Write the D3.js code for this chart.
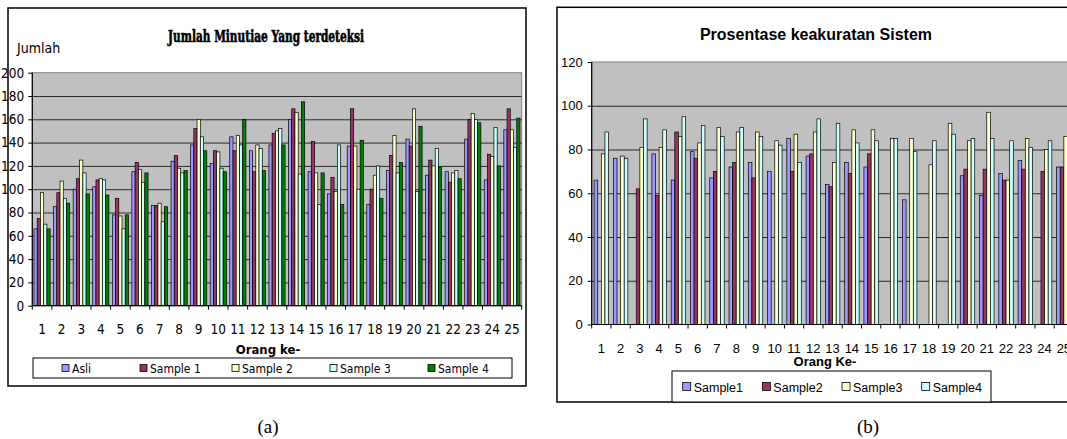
<!DOCTYPE html>
<html lang="en">
<head>
<meta charset="utf-8">
<title>Minutiae dan keakuratan</title>
<script src="https://d3js.org/d3.v7.min.js"></script>
<style>
  body { margin: 0; background: #fff; }
  svg { display: block; }
  .narrow { font-family: "Liberation Sans Narrow", "DejaVu Sans Condensed", "Liberation Sans", sans-serif; font-stretch: condensed; }
  .arial { font-family: "Liberation Sans", Arial, sans-serif; }
  .axis path { display: none; }
  .axis line { stroke: #000; }
  .grid line { stroke: #2a2a2a; }
  .grid path { display: none; }
</style>
</head>
<body>
<script>
// ---- data ----
const orang = ["1","2","3","4","5","6","7","8","9","10","11","12","13","14","15","16","17","18","19","20","21","22","23","24","25"];

// chart (a): Jumlah Minutiae Yang terdeteksi
const seriesA = ["Asli", "Sample 1", "Sample 2", "Sample 3", "Sample 4"];
const asli    = [66,85,100,102,78,115,86,124,138,122,145,133,138,160,115,96,137,87,116,143,112,115,143,108,151];
const sampleA1 = [75,97,109,108,92,123,86,129,152,133,133,115,148,169,141,110,169,100,129,137,125,106,160,130,169];
const sampleA2 = [97,107,125,109,77,117,88,118,160,132,146,138,150,166,114,98,137,112,146,169,120,114,165,128,151];
const sampleA3 = [70,92,114,108,66,106,72,114,145,118,138,135,152,113,87,138,100,120,114,98,135,116,160,153,136];
const sampleA4 = [66,88,96,95,78,114,85,116,133,115,160,116,138,175,114,87,142,92,123,154,119,109,157,120,161];
const ticksA = [0,20,40,60,80,100,120,140,160,180,200];

// chart (b): Prosentase keakuratan Sistem (null = no bar)
const seriesB = ["Sample1", "Sample2", "Sample3", "Sample4"];
const sampleB1 = [66,76,null,78,66,79,67,72,74,70,85,77,64,74,72,null,57,null,null,68,59,69,75,null,72];
const sampleB2 = [null,null,62,59,88,76,70,74,67,null,70,78,63,69,78,null,null,null,null,71,71,66,71,70,72];
const sampleB3 = [78,77,81,81,86,83,90,88,88,84,87,88,74,89,89,85,85,73,92,84,97,66,85,80,86];
const sampleB4 = [88,76,94,89,95,91,86,90,86,82,74,94,92,83,84,85,79,84,87,85,85,84,81,84,null];
const ticksB = [0,20,40,60,80,100,120];

const colorsA = ["#9999ff", "#993366", "#ffffcc", "#ccffff", "#008000"];
const colorsB = ["#9999ff", "#993366", "#ffffcc", "#ccffff"];

const W = 1067, H = 439;
const svg = d3.select("body").append("svg").attr("width", W).attr("height", H);
svg.append("rect").attr("width", W).attr("height", H).attr("fill", "#fff");

function panel(o) {
  const g = svg.append("g");
  // outer frame
  g.append("rect").attr("x", o.frame[0]).attr("y", o.frame[1])
    .attr("width", o.frame[2] - o.frame[0]).attr("height", o.frame[3] - o.frame[1])
    .attr("fill", "#fff").attr("stroke", "#000").attr("stroke-width", 1.5);

  const x = d3.scaleBand().domain(orang).range([o.left, o.right]).padding(0);
  const inner = d3.scaleBand().domain(o.series)
    .range([o.pad, x.bandwidth() - o.pad]);
  const y = d3.scaleLinear().domain([0, o.max]).range([o.bottom, o.top]);

  g.append("rect").attr("x", o.left).attr("y", o.top)
    .attr("width", o.right - o.left).attr("height", o.bottom - o.top)
    .attr("fill", "#c0c0c0").attr("stroke", "#808080");

  g.append("g").attr("class", "grid")
    .attr("transform", `translate(${o.left},0)`)
    .call(d3.axisLeft(y).tickValues(o.ticks.filter(t => t > 0 && t < o.max))
      .tickSize(-(o.right - o.left)).tickFormat(""));

  // bars
  o.values.forEach((vals, si) => {
    g.append("g").selectAll("rect")
      .data(vals.map((v, i) => ({ c: orang[i], v: v })).filter(d => d.v != null))
      .join("rect")
      .attr("x", d => x(d.c) + inner(o.series[si]))
      .attr("y", d => y(d.v))
      .attr("width", inner.bandwidth())
      .attr("height", d => y(0) - y(d.v))
      .attr("fill", o.colors[si])
      .attr("stroke", "#000").attr("stroke-width", 0.7);
  });

  // axes
  g.append("line").attr("x1", o.left).attr("x2", o.left).attr("y1", o.top).attr("y2", o.bottom)
    .attr("stroke", "#000").attr("stroke-width", 1.2);
  g.append("line").attr("x1", o.left).attr("x2", o.right).attr("y1", o.bottom).attr("y2", o.bottom)
    .attr("stroke", "#000").attr("stroke-width", 1.2);

  g.append("g").attr("class", "axis " + o.font)
    .attr("transform", `translate(${o.left},0)`)
    .call(d3.axisLeft(y).tickValues(o.ticks).tickSize(4).tickPadding(o.ypad))
    .selectAll("text").attr("font-size", o.fs).attr("fill", "#000");

  g.append("g").selectAll("line").data(orang.concat(["end"])).join("line")
    .attr("x1", d => d === "end" ? o.right : x(d))
    .attr("x2", d => d === "end" ? o.right : x(d))
    .attr("y1", o.bottom).attr("y2", o.bottom + 4).attr("stroke", "#000");

  g.append("g").attr("class", "axis " + o.font)
    .attr("transform", `translate(0,${o.bottom})`)
    .call(d3.axisBottom(x).tickSize(0).tickPadding(o.xpad))
    .selectAll("text").attr("font-size", o.fs).attr("fill", "#000");

  return { x, y };
}

// ---------- (a) ----------
panel({
  frame: [8, 8, 526, 386], left: 32.3, right: 521.7, top: 72.7, bottom: 305.7,
  max: 200, ticks: ticksA, series: seriesA, values: [asli, sampleA1, sampleA2, sampleA3, sampleA4],
  colors: colorsA, pad: 1.7, font: "narrow", fs: 13.5, ypad: 4, xpad: 19
});
svg.append("text").attr("x", 266).attr("y", 42).attr("text-anchor", "middle")
  .attr("font-family", "'DejaVu Serif', 'Liberation Serif', serif").attr("font-weight", "bold")
  .attr("font-size", 16).attr("textLength", 196).attr("lengthAdjust", "spacingAndGlyphs")
  .attr("stroke", "#000").attr("stroke-width", 0.6)
  .text("Jumlah Minutiae Yang terdeteksi");
svg.append("text").attr("class", "narrow").attr("x", 17).attr("y", 53)
  .attr("font-size", 14).text("Jumlah");
svg.append("text").attr("class", "narrow").attr("x", 268).attr("y", 354)
  .attr("text-anchor", "middle").attr("font-size", 13).attr("font-weight", "bold").text("Orang ke-");

const legA = svg.append("g");
legA.append("rect").attr("x", 33).attr("y", 358).attr("width", 479).attr("height", 20)
  .attr("fill", "#fff").attr("stroke", "#000");
const legendXA = [62, 140, 232, 330, 428];
seriesA.forEach((s, i) => {
  legA.append("rect").attr("x", legendXA[i]).attr("y", 364.5).attr("width", 7).attr("height", 7)
    .attr("fill", colorsA[i]).attr("stroke", "#000").attr("stroke-width", 0.8);
  legA.append("text").attr("class", "narrow").attr("x", legendXA[i] + 10).attr("y", 372.5)
    .attr("font-size", 12).text(s);
});

// ---------- (b) ----------
panel({
  frame: [557, 7.3, 1080, 402], left: 591.7, right: 1073.5, top: 62, bottom: 324.5,
  max: 120, ticks: ticksB, series: seriesB, values: [sampleB1, sampleB2, sampleB3, sampleB4],
  colors: colorsB, pad: 2.4, font: "arial", fs: 13, ypad: 5, xpad: 19
});
svg.append("text").attr("class", "arial").attr("x", 816).attr("y", 40).attr("text-anchor", "middle")
  .attr("font-weight", "bold").attr("font-size", 16).text("Prosentase keakuratan Sistem");
svg.append("text").attr("class", "arial").attr("x", 825).attr("y", 366)
  .attr("text-anchor", "middle").attr("font-size", 13).attr("font-weight", "bold").text("Orang Ke-");

const legB = svg.append("g");
legB.append("rect").attr("x", 672).attr("y", 371).attr("width", 319).attr("height", 31)
  .attr("fill", "#fff").attr("stroke", "#000");
const lxB = d3.scalePoint().domain(seriesB).range([682.7, 921.7]);
seriesB.forEach((s, i) => {
  legB.append("rect").attr("x", lxB(s)).attr("y", 382.5).attr("width", 8).attr("height", 8)
    .attr("fill", colorsB[i]).attr("stroke", "#000").attr("stroke-width", 0.8);
  legB.append("text").attr("class", "arial").attr("x", lxB(s) + 11).attr("y", 391.5)
    .attr("font-size", 12.5).text(s);
});

// captions
svg.append("text").attr("x", 268).attr("y", 433).attr("text-anchor", "middle")
  .attr("font-family", "'Liberation Serif', 'Times New Roman', serif").attr("font-size", 19).text("(a)");
svg.append("text").attr("x", 868).attr("y", 433).attr("text-anchor", "middle")
  .attr("font-family", "'Liberation Serif', 'Times New Roman', serif").attr("font-size", 19).text("(b)");
</script>
</body>
</html>
